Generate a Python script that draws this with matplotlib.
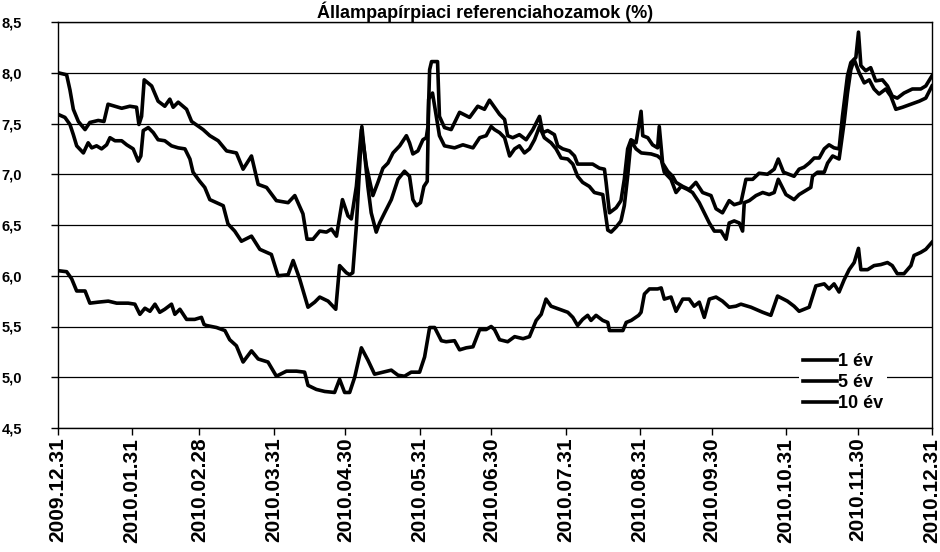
import matplotlib
matplotlib.use("Agg")
import matplotlib.pyplot as plt
import pandas as pd

# napok 2009.12.31-tol, hozam (%)
nap_10 = [0, 3.6, 5.0, 6.4, 8.5, 11.3, 13.3, 16.8, 19.2, 20.9, 23.8, 26.6, 30.0, 32.8, 33.8, 34.9, 36.0,
          39.1, 41.8, 44.6, 46.7, 48.1, 50.2, 53.7, 55.8, 60.6, 63.4, 66.9, 70.4, 74.5, 77.3, 80.8, 83.6,
          87.1, 91.2, 96.1, 98.9, 102.3, 104.0, 106.5, 109.3, 112.1, 114.2, 116.3, 118.8, 121.1, 122.5,
          124.6, 126.7, 128.8, 131.5, 133.6, 135.7, 137.8, 139.9, 142.7, 145.5, 146.8, 148.2, 150.3,
          152.4, 153.8, 154.5, 155.2, 156.0, 158.5, 159.3, 161.4, 164.2, 167.7, 171.9, 175.3, 178.1,
          180.2, 182.3, 184.4, 186.5, 187.8, 189.9, 192.7, 195.5, 198.3, 201.1, 202.4, 204.5, 207.3,
          208.7, 210.8, 213.6, 215.7, 217.0, 220.5, 223.3, 226.1, 228.2, 228.9, 230.3, 233.1, 235.1,
          236.5, 237.9, 239.3, 241.4, 243.5, 244.2, 246.3, 248.3, 250.4, 251.1, 252.5, 254.6, 256.7,
          258.1, 260.9, 263.6, 266.4, 269.2, 272.7, 274.8, 277.5, 280.3, 282.4, 285.2, 287.3, 290.1,
          292.8, 296.3, 299.1, 300.8, 303.0, 307.4, 309.5, 311.6, 313.7, 315.8, 317.9, 320.0, 322.0,
          324.1, 326.2, 327.6, 329.7, 331.1, 333.2, 334.3, 335.3, 337.3, 339.4, 341.5, 344.3, 346.4,
          348.4, 350.5, 353.3, 356.8, 360.3, 362.4, 365.0]
ev_10 = [8.00, 7.98, 7.83, 7.64, 7.52, 7.44, 7.51, 7.53, 7.52, 7.69, 7.67, 7.65, 7.67, 7.66, 7.49, 7.57, 7.93,
         7.87, 7.72, 7.67, 7.74, 7.66, 7.71, 7.64, 7.52, 7.44, 7.38, 7.33, 7.23, 7.21, 7.05, 7.18, 6.90,
         6.87, 6.74, 6.72, 6.79, 6.61, 6.36, 6.36, 6.44, 6.43, 6.46, 6.39, 6.75, 6.59, 6.56,
         6.88, 7.44, 7.08, 6.79, 6.92, 7.06, 7.11, 7.21, 7.28, 7.38, 7.31, 7.20, 7.23,
         7.34, 7.36, 7.47, 8.03, 8.11, 8.11, 7.57, 7.46, 7.44, 7.61, 7.56, 7.67, 7.64,
         7.73, 7.66, 7.59, 7.54, 7.38, 7.36, 7.39, 7.34, 7.44, 7.57, 7.41, 7.43, 7.39,
         7.28, 7.25, 7.23, 7.18, 7.10, 7.10, 7.10, 7.06, 7.05, 6.92, 6.62, 6.67, 6.74,
         6.95, 7.25, 7.34, 7.31, 7.62, 7.38, 7.36, 7.29, 7.26, 7.47, 7.11, 7.03, 6.98,
         6.92, 6.88, 6.85, 6.92, 6.82, 6.79, 6.66, 6.62, 6.74, 6.70, 6.72, 6.95, 6.95,
         7.01, 7.00, 7.05, 7.15, 7.02, 6.98, 7.05, 7.07, 7.11, 7.16, 7.16, 7.25, 7.29,
         7.26, 7.25, 7.57, 7.97, 8.10, 8.15, 8.40, 8.07, 8.02, 8.05, 7.92, 7.93, 7.87,
         7.77, 7.75, 7.80, 7.84, 7.84, 7.87, 7.97]

nap_5 = [0, 2.9, 5.0, 6.4, 7.8, 10.6, 12.6, 14.1, 16.1, 18.2, 20.3, 21.7, 23.8, 26.6, 28.7, 31.4, 33.5,
         34.6, 35.6, 37.7, 39.8, 41.8, 44.6, 47.4, 50.2, 53.0, 55.1, 56.4, 59.2, 61.3, 63.4, 66.2, 69.0,
         71.0, 73.8, 76.6, 80.8, 84.3, 89.1, 91.9, 96.1, 98.2, 100.9, 103.0, 104.4, 107.2, 109.3, 112.8,
         116.0, 117.6, 120.4, 121.8, 123.1, 124.6, 126.0, 126.9, 129.4, 130.8, 132.9, 134.3, 136.4,
         139.2, 142.0, 144.7, 146.8, 148.2, 149.7, 151.4, 152.8, 154.2, 154.8, 156.4, 159.3, 161.4,
         165.6, 169.1, 173.3, 176.1, 178.8, 180.9, 182.3, 184.4, 186.5, 188.6, 190.7, 192.7, 194.8,
         196.9, 199.0, 201.1, 203.1, 205.9, 208.0, 210.1, 212.9, 215.0, 217.0, 219.1, 221.9, 224.0,
         227.5, 229.6, 231.0, 233.1, 235.1, 236.5, 237.9, 239.3, 241.4, 243.6, 247.7, 250.4, 251.9,
         253.2, 256.0, 258.1, 260.2, 262.9, 265.0, 267.8, 269.9, 272.0, 274.1, 276.9, 279.0, 280.3,
         282.4, 284.5, 285.9, 286.6, 288.7, 291.5, 294.3, 297.0, 299.1, 300.8, 304.0, 307.4, 309.5,
         311.6, 314.4, 315.1, 317.2, 320.0, 321.4, 323.5, 326.2, 328.3, 329.7, 331.1, 332.5, 334.6,
         336.7, 338.8, 340.8, 342.9, 345.7, 347.8, 349.9, 352.7, 356.2, 359.7, 362.4, 365.0]
ev_5 = [7.59, 7.56, 7.49, 7.39, 7.28, 7.21, 7.31, 7.26, 7.28, 7.25, 7.29, 7.36, 7.33, 7.33, 7.29, 7.25, 7.13,
        7.18, 7.43, 7.46, 7.41, 7.34, 7.33, 7.28, 7.26, 7.25, 7.15, 7.02, 6.93, 6.87, 6.75, 6.72, 6.69,
        6.51, 6.44, 6.34, 6.39, 6.26, 6.21, 6.00, 6.01, 6.15, 5.97, 5.80, 5.69, 5.74, 5.79, 5.75,
        5.67, 6.10, 6.03, 6.01, 6.03, 6.49, 7.08, 7.47, 6.88, 6.62, 6.43, 6.52, 6.62,
        6.75, 6.95, 7.03, 6.98, 6.75, 6.69, 6.72, 6.88, 6.93, 7.74, 7.80, 7.38, 7.28,
        7.26, 7.29, 7.26, 7.36, 7.38, 7.47, 7.44, 7.41, 7.36, 7.18, 7.25, 7.28, 7.21,
        7.25, 7.34, 7.47, 7.36, 7.31, 7.25, 7.16, 7.15, 7.10, 6.98, 6.92, 6.88, 6.82,
        6.80, 6.45, 6.43, 6.48, 6.54, 6.69, 6.98, 7.33, 7.25, 7.21, 7.20, 7.18, 7.15,
        7.02, 6.95, 6.82, 6.88, 6.85, 6.82, 6.72, 6.62, 6.52, 6.44, 6.44, 6.36, 6.52,
        6.54, 6.52, 6.44, 6.72, 6.74, 6.79, 6.82, 6.80, 6.82, 6.95, 6.80, 6.75, 6.80,
        6.83, 6.87, 6.98, 7.02, 7.02, 7.11, 7.18, 7.15, 7.51, 7.80, 8.03, 8.13, 8.00,
        7.90, 7.93, 7.84, 7.79, 7.84, 7.77, 7.64, 7.66, 7.69, 7.72, 7.75, 7.87]

nap_1 = [0, 3.6, 5.7, 7.8, 11.3, 13.3, 16.8, 21.0, 24.5, 29.3, 32.1, 34.2, 36.3, 38.4, 40.5, 42.5, 44.6,
         47.4, 48.8, 50.9, 53.7, 57.1, 59.9, 61.0, 62.0, 66.2, 69.7, 71.7, 74.5, 77.3, 80.8, 83.6, 87.7,
         91.2, 95.4, 99.6, 103.0, 104.4, 107.9, 111.4, 115.5, 117.6, 119.7, 121.8, 123.9, 126.7, 129.4,
         132.2, 135.7, 139.2, 142.0, 144.7, 147.5, 151.0, 153.1, 155.2, 157.3, 160.1, 162.1, 165.6,
         167.7, 170.5, 173.3, 176.1, 178.8, 180.9, 182.3, 184.4, 187.8, 190.7, 194.2, 196.9, 199.7,
         201.8, 203.8, 205.9, 209.4, 212.9, 215.0, 217.0, 219.1, 221.2, 222.6, 224.7, 227.5, 229.6,
         230.3, 235.9, 237.3, 239.4, 242.5, 243.5, 244.9, 247.0, 250.4, 251.9, 253.2, 256.0, 258.1,
         260.9, 263.6, 265.7, 267.8, 269.9, 272.0, 274.8, 277.5, 280.3, 283.1, 285.2, 289.4, 294.3,
         297.7, 300.5, 304.6, 307.4, 309.5, 313.7, 316.5, 320.0, 322.0, 324.1, 326.2, 328.3, 330.4,
         332.5, 334.3, 335.3, 338.1, 340.8, 343.6, 346.4, 348.4, 350.5, 353.3, 356.2, 357.5, 360.3,
         362.4, 365.0]
ev_1 = [6.05, 6.04, 5.97, 5.85, 5.85, 5.73, 5.74, 5.75, 5.73, 5.73, 5.72, 5.62, 5.68, 5.65, 5.72, 5.64, 5.67,
        5.72, 5.62, 5.67, 5.57, 5.57, 5.59, 5.52, 5.51, 5.49, 5.46, 5.37, 5.31, 5.15, 5.26, 5.18, 5.15,
        5.01, 5.06, 5.06, 5.05, 4.92, 4.88, 4.86, 4.85, 4.98, 4.85, 4.85, 5.00, 5.29, 5.17,
        5.03, 5.05, 5.07, 5.02, 5.01, 5.05, 5.05, 5.20, 5.49, 5.49, 5.36, 5.35, 5.36,
        5.27, 5.29, 5.30, 5.47, 5.47, 5.50, 5.47, 5.37, 5.35, 5.40, 5.38, 5.40, 5.56,
        5.62, 5.77, 5.70, 5.67, 5.64, 5.59, 5.51, 5.57, 5.61, 5.56, 5.61, 5.56, 5.54,
        5.46, 5.46, 5.54, 5.56, 5.61, 5.64, 5.82, 5.87, 5.87, 5.88, 5.77, 5.79, 5.65,
        5.77, 5.77, 5.70, 5.74, 5.59, 5.77, 5.79, 5.75, 5.69, 5.70, 5.72, 5.69, 5.64,
        5.61, 5.80, 5.75, 5.70, 5.65, 5.69, 5.90, 5.92, 5.87, 5.92, 5.84, 5.96, 6.06,
        6.13, 6.27, 6.06, 6.06, 6.10, 6.11, 6.13, 6.10, 6.02, 6.02, 6.10, 6.20, 6.23,
        6.26, 6.33]

honapvegek = ["2009.12.31", "2010.01.31", "2010.02.28", "2010.03.31", "2010.04.30", "2010.05.31",
              "2010.06.30", "2010.07.31", "2010.08.31", "2010.09.30", "2010.10.31", "2010.11.30",
              "2010.12.31"]
y_ertekek = [4.5, 5.0, 5.5, 6.0, 6.5, 7.0, 7.5, 8.0, 8.5]
y_cimkek = ["4,5", "5,0", "5,5", "6,0", "6,5", "7,0", "7,5", "8,0", "8,5"]

plt.rcParams['font.family'] = ['Liberation Sans', 'DejaVu Sans']
plt.rcParams['font.weight'] = 'bold'

fig = plt.figure(figsize=(9.4, 5.52), dpi=100)
ax = fig.add_axes([58/940, 1 - 428/552, 874/940, 406/552])

vastag = 2.6
ax.plot(nap_1, ev_1, color='black', lw=vastag, label='1 év', solid_joinstyle='round')
ax.plot(nap_5, ev_5, color='black', lw=vastag, label='5 év', solid_joinstyle='round')
ax.plot(nap_10, ev_10, color='black', lw=vastag, label='10 év', solid_joinstyle='round')

datumok = pd.to_datetime(honapvegek, format="%Y.%m.%d")
xpoz = (datumok - datumok[0]).days
ax.set_xlim(xpoz[0], xpoz[-1])
ax.set_xticks(xpoz)
ax.set_xticklabels(honapvegek, rotation=90, fontsize=15, fontweight='bold')
ax.set_ylim(4.5, 8.5)
ax.set_yticks(y_ertekek)
ax.set_yticklabels(y_cimkek, fontsize=10.5, fontweight='bold')
ax.tick_params(axis='both', direction='out', length=5, width=1, color='black')
ax.tick_params(axis='x', pad=2)
ax.tick_params(axis='y', pad=21)

ax.grid(True, axis='y', color='black', lw=0.9)
ax.set_axisbelow(True)
for s in ax.spines.values():
    s.set_color('black')
    s.set_linewidth(1)

leg = ax.legend(loc='upper left', bbox_to_anchor=(0.838, 0.215), frameon=True, fancybox=False,
                edgecolor='none', facecolor='white', framealpha=1,
                handlelength=1.9, handletextpad=0.05, labelspacing=0.22, borderpad=0.2,
                prop={'weight': 'bold', 'size': 13})

fig.text(485/940, 1 - 1/552, "Állampapírpiaci referenciahozamok (%)", ha='center', va='top',
         fontsize=13, fontweight='bold')

fig.savefig("out.png", dpi=100)
